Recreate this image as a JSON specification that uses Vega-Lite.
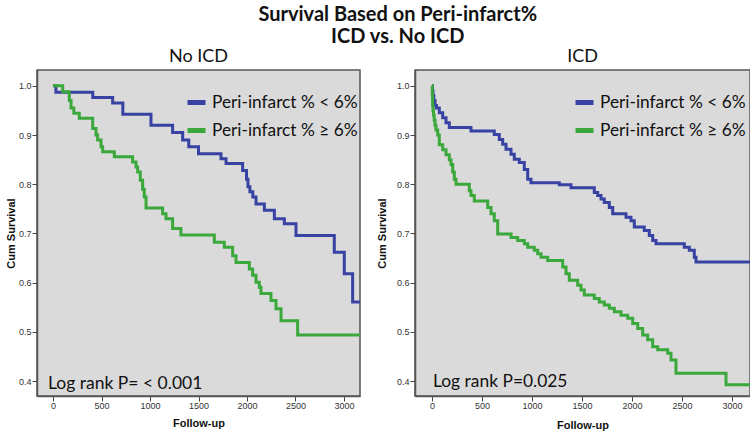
{
  "$schema": "https://vega.github.io/schema/vega-lite/v6.json",
  "padding": {"left": 4, "top": 5, "right": 0, "bottom": 0},
  "background": "white",
  "title": {"text": ["Survival Based on Peri-infarct%", "ICD vs. No ICD"], "font": "Lato", "fontSize": 20, "fontWeight": "bold", "lineHeight": 22, "anchor": "middle", "dx": 20, "color": "#111", "offset": 0},
  "bounds": "flush",
  "spacing": 55,
  "resolve": {"legend": {"color": "independent"}},
  "datasets": {
    "noicd": [
      {"t": 0, "s": 1.0, "g": "Peri-infarct % < 6%"},
      {"t": 30, "s": 0.987, "g": "Peri-infarct % < 6%"},
      {"t": 410, "s": 0.976, "g": "Peri-infarct % < 6%"},
      {"t": 615, "s": 0.965, "g": "Peri-infarct % < 6%"},
      {"t": 720, "s": 0.942, "g": "Peri-infarct % < 6%"},
      {"t": 1010, "s": 0.92, "g": "Peri-infarct % < 6%"},
      {"t": 1233, "s": 0.905, "g": "Peri-infarct % < 6%"},
      {"t": 1337, "s": 0.89, "g": "Peri-infarct % < 6%"},
      {"t": 1400, "s": 0.876, "g": "Peri-infarct % < 6%"},
      {"t": 1500, "s": 0.862, "g": "Peri-infarct % < 6%"},
      {"t": 1732, "s": 0.852, "g": "Peri-infarct % < 6%"},
      {"t": 1784, "s": 0.842, "g": "Peri-infarct % < 6%"},
      {"t": 1955, "s": 0.828, "g": "Peri-infarct % < 6%"},
      {"t": 1995, "s": 0.81, "g": "Peri-infarct % < 6%"},
      {"t": 2010, "s": 0.795, "g": "Peri-infarct % < 6%"},
      {"t": 2030, "s": 0.785, "g": "Peri-infarct % < 6%"},
      {"t": 2060, "s": 0.774, "g": "Peri-infarct % < 6%"},
      {"t": 2093, "s": 0.76, "g": "Peri-infarct % < 6%"},
      {"t": 2179, "s": 0.747, "g": "Peri-infarct % < 6%"},
      {"t": 2282, "s": 0.73, "g": "Peri-infarct % < 6%"},
      {"t": 2385, "s": 0.72, "g": "Peri-infarct % < 6%"},
      {"t": 2505, "s": 0.696, "g": "Peri-infarct % < 6%"},
      {"t": 2900, "s": 0.662, "g": "Peri-infarct % < 6%"},
      {"t": 3003, "s": 0.618, "g": "Peri-infarct % < 6%"},
      {"t": 3089, "s": 0.561, "g": "Peri-infarct % < 6%"},
      {"t": 3175, "s": 0.561, "g": "Peri-infarct % < 6%"},
      {"t": 0, "s": 1.0, "g": "Peri-infarct % ≥ 6%"},
      {"t": 100, "s": 0.988, "g": "Peri-infarct % ≥ 6%"},
      {"t": 168, "s": 0.97, "g": "Peri-infarct % ≥ 6%"},
      {"t": 186, "s": 0.955, "g": "Peri-infarct % ≥ 6%"},
      {"t": 215, "s": 0.944, "g": "Peri-infarct % ≥ 6%"},
      {"t": 271, "s": 0.934, "g": "Peri-infarct % ≥ 6%"},
      {"t": 409, "s": 0.913, "g": "Peri-infarct % ≥ 6%"},
      {"t": 443, "s": 0.9, "g": "Peri-infarct % ≥ 6%"},
      {"t": 460, "s": 0.89, "g": "Peri-infarct % ≥ 6%"},
      {"t": 495, "s": 0.876, "g": "Peri-infarct % ≥ 6%"},
      {"t": 512, "s": 0.866, "g": "Peri-infarct % ≥ 6%"},
      {"t": 632, "s": 0.856, "g": "Peri-infarct % ≥ 6%"},
      {"t": 821, "s": 0.845, "g": "Peri-infarct % ≥ 6%"},
      {"t": 856, "s": 0.835, "g": "Peri-infarct % ≥ 6%"},
      {"t": 873, "s": 0.825, "g": "Peri-infarct % ≥ 6%"},
      {"t": 900, "s": 0.808, "g": "Peri-infarct % ≥ 6%"},
      {"t": 924, "s": 0.79, "g": "Peri-infarct % ≥ 6%"},
      {"t": 941, "s": 0.774, "g": "Peri-infarct % ≥ 6%"},
      {"t": 959, "s": 0.752, "g": "Peri-infarct % ≥ 6%"},
      {"t": 1130, "s": 0.74, "g": "Peri-infarct % ≥ 6%"},
      {"t": 1165, "s": 0.73, "g": "Peri-infarct % ≥ 6%"},
      {"t": 1233, "s": 0.71, "g": "Peri-infarct % ≥ 6%"},
      {"t": 1319, "s": 0.697, "g": "Peri-infarct % ≥ 6%"},
      {"t": 1663, "s": 0.682, "g": "Peri-infarct % ≥ 6%"},
      {"t": 1766, "s": 0.672, "g": "Peri-infarct % ≥ 6%"},
      {"t": 1852, "s": 0.655, "g": "Peri-infarct % ≥ 6%"},
      {"t": 1887, "s": 0.641, "g": "Peri-infarct % ≥ 6%"},
      {"t": 2024, "s": 0.628, "g": "Peri-infarct % ≥ 6%"},
      {"t": 2058, "s": 0.615, "g": "Peri-infarct % ≥ 6%"},
      {"t": 2093, "s": 0.601, "g": "Peri-infarct % ≥ 6%"},
      {"t": 2127, "s": 0.591, "g": "Peri-infarct % ≥ 6%"},
      {"t": 2144, "s": 0.578, "g": "Peri-infarct % ≥ 6%"},
      {"t": 2247, "s": 0.564, "g": "Peri-infarct % ≥ 6%"},
      {"t": 2299, "s": 0.547, "g": "Peri-infarct % ≥ 6%"},
      {"t": 2351, "s": 0.523, "g": "Peri-infarct % ≥ 6%"},
      {"t": 2522, "s": 0.494, "g": "Peri-infarct % ≥ 6%"},
      {"t": 3175, "s": 0.494, "g": "Peri-infarct % ≥ 6%"}
    ],
    "icd": [
      {"t": 0, "s": 1.0, "g": "Peri-infarct % < 6%"},
      {"t": 5, "s": 0.99, "g": "Peri-infarct % < 6%"},
      {"t": 10, "s": 0.98, "g": "Peri-infarct % < 6%"},
      {"t": 18, "s": 0.97, "g": "Peri-infarct % < 6%"},
      {"t": 30, "s": 0.96, "g": "Peri-infarct % < 6%"},
      {"t": 45, "s": 0.955, "g": "Peri-infarct % < 6%"},
      {"t": 73, "s": 0.945, "g": "Peri-infarct % < 6%"},
      {"t": 107, "s": 0.935, "g": "Peri-infarct % < 6%"},
      {"t": 140, "s": 0.925, "g": "Peri-infarct % < 6%"},
      {"t": 173, "s": 0.915, "g": "Peri-infarct % < 6%"},
      {"t": 390, "s": 0.908, "g": "Peri-infarct % < 6%"},
      {"t": 623, "s": 0.901, "g": "Peri-infarct % < 6%"},
      {"t": 673, "s": 0.891, "g": "Peri-infarct % < 6%"},
      {"t": 707, "s": 0.881, "g": "Peri-infarct % < 6%"},
      {"t": 740, "s": 0.871, "g": "Peri-infarct % < 6%"},
      {"t": 790, "s": 0.861, "g": "Peri-infarct % < 6%"},
      {"t": 823, "s": 0.851, "g": "Peri-infarct % < 6%"},
      {"t": 873, "s": 0.844, "g": "Peri-infarct % < 6%"},
      {"t": 923, "s": 0.83, "g": "Peri-infarct % < 6%"},
      {"t": 957, "s": 0.81, "g": "Peri-infarct % < 6%"},
      {"t": 990, "s": 0.803, "g": "Peri-infarct % < 6%"},
      {"t": 1273, "s": 0.799, "g": "Peri-infarct % < 6%"},
      {"t": 1390, "s": 0.793, "g": "Peri-infarct % < 6%"},
      {"t": 1623, "s": 0.783, "g": "Peri-infarct % < 6%"},
      {"t": 1657, "s": 0.777, "g": "Peri-infarct % < 6%"},
      {"t": 1690, "s": 0.77, "g": "Peri-infarct % < 6%"},
      {"t": 1723, "s": 0.763, "g": "Peri-infarct % < 6%"},
      {"t": 1773, "s": 0.753, "g": "Peri-infarct % < 6%"},
      {"t": 1807, "s": 0.74, "g": "Peri-infarct % < 6%"},
      {"t": 1940, "s": 0.733, "g": "Peri-infarct % < 6%"},
      {"t": 1990, "s": 0.726, "g": "Peri-infarct % < 6%"},
      {"t": 2023, "s": 0.713, "g": "Peri-infarct % < 6%"},
      {"t": 2123, "s": 0.706, "g": "Peri-infarct % < 6%"},
      {"t": 2173, "s": 0.696, "g": "Peri-infarct % < 6%"},
      {"t": 2207, "s": 0.686, "g": "Peri-infarct % < 6%"},
      {"t": 2240, "s": 0.679, "g": "Peri-infarct % < 6%"},
      {"t": 2523, "s": 0.672, "g": "Peri-infarct % < 6%"},
      {"t": 2573, "s": 0.666, "g": "Peri-infarct % < 6%"},
      {"t": 2623, "s": 0.652, "g": "Peri-infarct % < 6%"},
      {"t": 2640, "s": 0.642, "g": "Peri-infarct % < 6%"},
      {"t": 3180, "s": 0.642, "g": "Peri-infarct % < 6%"},
      {"t": 0, "s": 1.0, "g": "Peri-infarct % ≥ 6%"},
      {"t": 3, "s": 0.98, "g": "Peri-infarct % ≥ 6%"},
      {"t": 6, "s": 0.96, "g": "Peri-infarct % ≥ 6%"},
      {"t": 10, "s": 0.95, "g": "Peri-infarct % ≥ 6%"},
      {"t": 15, "s": 0.94, "g": "Peri-infarct % ≥ 6%"},
      {"t": 22, "s": 0.93, "g": "Peri-infarct % ≥ 6%"},
      {"t": 30, "s": 0.92, "g": "Peri-infarct % ≥ 6%"},
      {"t": 40, "s": 0.91, "g": "Peri-infarct % ≥ 6%"},
      {"t": 57, "s": 0.9, "g": "Peri-infarct % ≥ 6%"},
      {"t": 73, "s": 0.88, "g": "Peri-infarct % ≥ 6%"},
      {"t": 107, "s": 0.87, "g": "Peri-infarct % ≥ 6%"},
      {"t": 140, "s": 0.86, "g": "Peri-infarct % ≥ 6%"},
      {"t": 173, "s": 0.85, "g": "Peri-infarct % ≥ 6%"},
      {"t": 190, "s": 0.84, "g": "Peri-infarct % ≥ 6%"},
      {"t": 207, "s": 0.825, "g": "Peri-infarct % ≥ 6%"},
      {"t": 223, "s": 0.81, "g": "Peri-infarct % ≥ 6%"},
      {"t": 240, "s": 0.8, "g": "Peri-infarct % ≥ 6%"},
      {"t": 373, "s": 0.787, "g": "Peri-infarct % ≥ 6%"},
      {"t": 390, "s": 0.777, "g": "Peri-infarct % ≥ 6%"},
      {"t": 423, "s": 0.766, "g": "Peri-infarct % ≥ 6%"},
      {"t": 557, "s": 0.753, "g": "Peri-infarct % ≥ 6%"},
      {"t": 590, "s": 0.74, "g": "Peri-infarct % ≥ 6%"},
      {"t": 623, "s": 0.726, "g": "Peri-infarct % ≥ 6%"},
      {"t": 657, "s": 0.699, "g": "Peri-infarct % ≥ 6%"},
      {"t": 790, "s": 0.692, "g": "Peri-infarct % ≥ 6%"},
      {"t": 857, "s": 0.686, "g": "Peri-infarct % ≥ 6%"},
      {"t": 923, "s": 0.679, "g": "Peri-infarct % ≥ 6%"},
      {"t": 957, "s": 0.672, "g": "Peri-infarct % ≥ 6%"},
      {"t": 1023, "s": 0.666, "g": "Peri-infarct % ≥ 6%"},
      {"t": 1057, "s": 0.659, "g": "Peri-infarct % ≥ 6%"},
      {"t": 1090, "s": 0.652, "g": "Peri-infarct % ≥ 6%"},
      {"t": 1157, "s": 0.645, "g": "Peri-infarct % ≥ 6%"},
      {"t": 1307, "s": 0.632, "g": "Peri-infarct % ≥ 6%"},
      {"t": 1340, "s": 0.618, "g": "Peri-infarct % ≥ 6%"},
      {"t": 1373, "s": 0.605, "g": "Peri-infarct % ≥ 6%"},
      {"t": 1457, "s": 0.595, "g": "Peri-infarct % ≥ 6%"},
      {"t": 1490, "s": 0.585, "g": "Peri-infarct % ≥ 6%"},
      {"t": 1523, "s": 0.575, "g": "Peri-infarct % ≥ 6%"},
      {"t": 1623, "s": 0.568, "g": "Peri-infarct % ≥ 6%"},
      {"t": 1673, "s": 0.561, "g": "Peri-infarct % ≥ 6%"},
      {"t": 1723, "s": 0.555, "g": "Peri-infarct % ≥ 6%"},
      {"t": 1773, "s": 0.548, "g": "Peri-infarct % ≥ 6%"},
      {"t": 1823, "s": 0.541, "g": "Peri-infarct % ≥ 6%"},
      {"t": 1890, "s": 0.534, "g": "Peri-infarct % ≥ 6%"},
      {"t": 1957, "s": 0.528, "g": "Peri-infarct % ≥ 6%"},
      {"t": 2007, "s": 0.517, "g": "Peri-infarct % ≥ 6%"},
      {"t": 2057, "s": 0.507, "g": "Peri-infarct % ≥ 6%"},
      {"t": 2107, "s": 0.494, "g": "Peri-infarct % ≥ 6%"},
      {"t": 2157, "s": 0.484, "g": "Peri-infarct % ≥ 6%"},
      {"t": 2207, "s": 0.47, "g": "Peri-infarct % ≥ 6%"},
      {"t": 2257, "s": 0.464, "g": "Peri-infarct % ≥ 6%"},
      {"t": 2357, "s": 0.457, "g": "Peri-infarct % ≥ 6%"},
      {"t": 2390, "s": 0.443, "g": "Peri-infarct % ≥ 6%"},
      {"t": 2440, "s": 0.416, "g": "Peri-infarct % ≥ 6%"},
      {"t": 2940, "s": 0.393, "g": "Peri-infarct % ≥ 6%"},
      {"t": 3180, "s": 0.393, "g": "Peri-infarct % ≥ 6%"}
    ],
    "note_noicd": [{"t": -52, "s": 0.394, "label": "Log rank P= < 0.001"}],
    "note_icd": [{"t": 10, "s": 0.398, "label": "Log rank P=0.025"}]
  },
  "hconcat": [
    {
      "width": 323,
      "height": 326,
      "title": {"text": "No ICD", "font": "Lato", "fontSize": 18, "fontWeight": "normal", "color": "#111", "anchor": "middle", "offset": 4},
      "layer": [
        {
          "data": {"name": "noicd"},
          "mark": {"type": "line", "interpolate": "step-after", "strokeWidth": 3, "clip": true},
          "encoding": {
            "x": {"field": "t", "type": "quantitative", "scale": {"domain": [-165, 3165], "nice": false, "zero": false},
                  "axis": {"values": [0, 500, 1000, 1500, 2000, 2500, 3000], "format": "d", "title": "Follow-up", "titlePadding": 7, "labelPadding": 0, "labelFlush": false}},
            "y": {"field": "s", "type": "quantitative", "scale": {"domain": [0.37, 1.032], "nice": false, "zero": false},
                  "axis": {"values": [0.4, 0.5, 0.6, 0.7, 0.8, 0.9, 1.0], "format": ".1f", "title": "Cum Survival", "titlePadding": 2, "labelPadding": 1}},
            "color": {"field": "g", "type": "nominal",
                      "scale": {"domain": ["Peri-infarct % < 6%", "Peri-infarct % ≥ 6%"], "range": ["#3742a3", "#3aa83a"]},
                      "legend": {"title": null, "orient": "none", "legendX": 148, "legendY": 21, "symbolType": "stroke", "symbolStrokeWidth": 5, "symbolSize": 324, "labelFont": "Lato", "labelFontSize": 17.3, "labelColor": "#111", "labelOffset": 4, "rowPadding": 6, "labelLimit": 300, "padding": 0}}
          }
        },
        {
          "data": {"name": "note_noicd"},
          "mark": {"type": "text", "align": "left", "baseline": "middle", "font": "Lato", "fontSize": 17.5, "color": "#111"},
          "encoding": {
            "x": {"field": "t", "type": "quantitative"},
            "y": {"field": "s", "type": "quantitative"},
            "text": {"field": "label"}
          }
        }
      ]
    },
    {
      "width": 335,
      "height": 326,
      "title": {"text": "ICD", "font": "Lato", "fontSize": 18, "fontWeight": "normal", "color": "#111", "anchor": "middle", "offset": 4},
      "layer": [
        {
          "data": {"name": "icd"},
          "mark": {"type": "line", "interpolate": "step-after", "strokeWidth": 3, "clip": true},
          "encoding": {
            "x": {"field": "t", "type": "quantitative", "scale": {"domain": [-170, 3180], "nice": false, "zero": false},
                  "axis": {"values": [0, 500, 1000, 1500, 2000, 2500, 3000], "format": "d", "title": "Follow-up", "titlePadding": 9, "labelPadding": 0, "labelFlush": false}},
            "y": {"field": "s", "type": "quantitative", "scale": {"domain": [0.37, 1.032], "nice": false, "zero": false},
                  "axis": {"values": [0.4, 0.5, 0.6, 0.7, 0.8, 0.9, 1.0], "format": ".1f", "title": "Cum Survival", "titlePadding": 9, "labelPadding": 1}},
            "color": {"field": "g", "type": "nominal",
                      "scale": {"domain": ["Peri-infarct % < 6%", "Peri-infarct % ≥ 6%"], "range": ["#3742a3", "#3aa83a"]},
                      "legend": {"title": null, "orient": "none", "legendX": 158, "legendY": 21, "symbolType": "stroke", "symbolStrokeWidth": 5, "symbolSize": 324, "labelFont": "Lato", "labelFontSize": 17.3, "labelColor": "#111", "labelOffset": 4, "rowPadding": 6, "labelLimit": 300, "padding": 0}}
          }
        },
        {
          "data": {"name": "note_icd"},
          "mark": {"type": "text", "align": "left", "baseline": "middle", "font": "Lato", "fontSize": 17.4, "color": "#111"},
          "encoding": {
            "x": {"field": "t", "type": "quantitative"},
            "y": {"field": "s", "type": "quantitative"},
            "text": {"field": "label"}
          }
        }
      ]
    }
  ],
  "config": {
    "view": {"fill": "#dadada", "stroke": "#555", "strokeWidth": 1.5},
    "axis": {"labelFont": "Liberation Sans", "labelFontSize": 9, "labelColor": "#333", "titleFont": "Liberation Sans", "titleFontSize": 11, "titleFontWeight": "bold", "titleColor": "#111", "tickColor": "#444", "tickSize": 5, "domainColor": "#555", "domainWidth": 1.5, "grid": false}
  }
}
